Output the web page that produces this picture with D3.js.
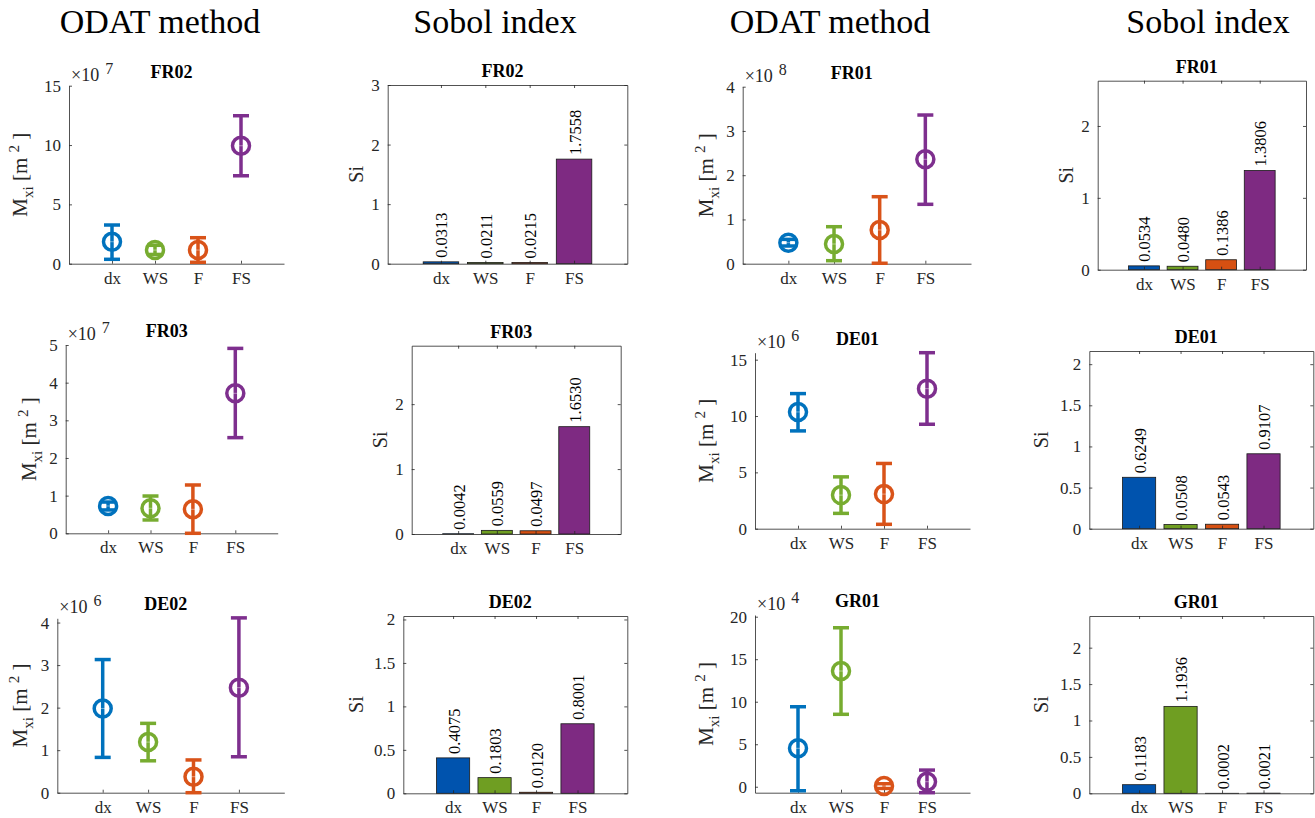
<!DOCTYPE html>
<html>
<head>
<meta charset="utf-8">
<script src="https://cdn.jsdelivr.net/npm/d3@7"></script>
<style>
  body { margin: 0; background: #fff; }
  svg, text { font-family: "Liberation Serif", "Times New Roman", Times, serif; }
</style>
</head>
<body>
<svg id="fig" width="1315" height="818"></svg>
<script>
// ---- data ----
const categories = ["dx", "WS", "F", "FS"];
const columnHeaders = ["ODAT method", "Sobol index", "ODAT method", "Sobol index"];

// ODAT sensitivity measure M_xi (mean with lower/upper error limits), in units of 10^exponent m^2
const odatSites = ["FR02", "FR03", "DE02", "FR01", "DE01", "GR01"];
const odatExponent = [7, 7, 6, 8, 6, 4];
const odatMean = [
  [1.85, 1.15, 1.15, 9.94],
  [0.725, 0.664, 0.637, 3.717],
  [1.98, 1.19, 0.376, 2.47],
  [0.475, 0.445, 0.762, 2.36],
  [10.36, 2.98, 3.07, 12.43],
  [4.52, 13.61, 0.08, 0.59]
];
const odatLow = [
  [0.37, 0.78, 0.12, 7.41],
  [0.62, 0.354, 0.0, 2.54],
  [0.83, 0.75, 0.0, 0.845],
  [0.40, 0.068, 0.01, 1.342],
  [8.68, 1.36, 0.39, 9.27],
  [-0.47, 8.52, -0.2, -0.7]
];
const odatHigh = [
  [3.26, 1.55, 2.19, 12.47],
  [0.83, 0.99, 1.283, 4.91],
  [3.13, 1.63, 0.77, 4.11],
  [0.55, 0.836, 1.514, 3.36],
  [11.99, 4.6, 5.79, 15.62],
  [9.41, 18.7, 0.35, 1.96]
];
const odatYMin = [0, 0, 0, 0, 0, -0.7];
const odatYMax = [15, 5, 4.1, 4, 15.62, 20.2];
const odatTicks = [[0, 5, 10, 15], [0, 1, 2, 3, 4, 5], [0, 1, 2, 3, 4], [0, 1, 2, 3, 4], [0, 5, 10, 15], [0, 5, 10, 15, 20]];

// first-order Sobol indices
const sobolSites = ["FR02", "FR03", "DE02", "FR01", "DE01", "GR01"];
const sobolIndex = [
  [0.0313, 0.0211, 0.0215, 1.7558],
  [0.0042, 0.0559, 0.0497, 1.6530],
  [0.4075, 0.1803, 0.0120, 0.8001],
  [0.0534, 0.0480, 0.1386, 1.3806],
  [0.6249, 0.0508, 0.0543, 0.9107],
  [0.1183, 1.1936, 0.0002, 0.0021]
];
const sobolYMax = [3, 2.9, 2.04, 2.63, 2.16, 2.435];
const sobolTicks = [[0, 1, 2, 3], [0, 1, 2], [0, 0.5, 1, 1.5, 2], [0, 1, 2], [0, 0.5, 1, 1.5, 2], [0, 0.5, 1, 1.5, 2]];

// ---- layout ----
const headerX = [160, 495, 830, 1208];
const odatFrames = [
  { x0: 69, x1: 284, y0: 85.7, y1: 263.7, lab: 42 },
  { x0: 65.7, x1: 277.7, y0: 345, y1: 533.3, lab: 30 },
  { x0: 57.3, x1: 284.3, y0: 618.3, y1: 792.7, lab: 30 },
  { x0: 742.7, x1: 971, y0: 86.7, y1: 263.7, lab: 30 },
  { x0: 755, x1: 970, y0: 352.7, y1: 528.7, lab: 42 },
  { x0: 755, x1: 970, y0: 615, y1: 792.7, lab: 42 }
];
const sobolFrames = [
  { x0: 387.7, x1: 627.3, y0: 85, y1: 263.7, lab: 25 },
  { x0: 411.7, x1: 620.7, y0: 345.7, y1: 534, lab: 25 },
  { x0: 403.3, x1: 627.3, y0: 616, y1: 793.3, lab: 40 },
  { x0: 1097.7, x1: 1306, y0: 80.7, y1: 269.7, lab: 25 },
  { x0: 1089.3, x1: 1313.3, y0: 351, y1: 528.7, lab: 41 },
  { x0: 1089.3, x1: 1313.3, y0: 616, y1: 793.3, lab: 41 }
];
const markerColors = ["#0072BD", "#77AC30", "#D95319", "#7E2F8E"];
const barColors = ["#0053AE", "#6F9E22", "#D65012", "#7E2A82"];
const axisColor = "#262626";
const tickFont = 17;

const svg = d3.select("#fig");

// column headers
svg.selectAll("text.header").data(columnHeaders).join("text")
  .attr("class", "header")
  .attr("x", (d, i) => headerX[i]).attr("y", 33)
  .attr("text-anchor", "middle")
  .attr("font-size", 34).attr("fill", "#000")
  .text(d => d);

function styleAxis(g, showLabels) {
  g.attr("font-family", null).attr("font-size", null);
  g.select(".domain").attr("stroke", axisColor).attr("stroke-width", 0.8);
  g.selectAll(".tick line").attr("stroke", axisColor).attr("stroke-width", 0.8);
  g.selectAll(".tick text")
    .attr("fill", axisColor)
    .attr("font-size", tickFont);
  if (!showLabels) g.selectAll(".tick text").remove();
}

function panelTitle(f, name) {
  svg.append("text")
    .attr("x", (f.x0 + f.x1) / 2 - 5).attr("y", f.y0 - 8)
    .attr("text-anchor", "middle")
    .attr("font-size", 18).attr("font-weight", "bold").attr("fill", "#000")
    .text(name);
}

// ---- ODAT panels: circle markers with error bars ----
odatSites.forEach((site, p) => {
  const f = odatFrames[p];
  const x = d3.scaleLinear().domain([0, 5]).range([f.x0, f.x1]);
  const y = d3.scaleLinear().domain([odatYMin[p], odatYMax[p]]).range([f.y1, f.y0]);
  const g = svg.append("g");

  g.append("g").attr("transform", `translate(0,${f.y1})`)
    .call(d3.axisBottom(x).tickValues([1, 2, 3, 4]).tickFormat(v => categories[v - 1])
      .tickSizeInner(-3).tickSizeOuter(0).tickPadding(8))
    .call(a => styleAxis(a, true));
  g.append("g").attr("transform", `translate(${f.x0},0)`)
    .call(d3.axisLeft(y).tickValues(odatTicks[p]).tickFormat(d3.format("d"))
      .tickSizeInner(-3).tickSizeOuter(0).tickPadding(8))
    .call(a => styleAxis(a, true));

  const pts = categories.map((c, i) => ({
    i, mean: odatMean[p][i], lo: odatLow[p][i], hi: odatHigh[p][i]
  }));
  const capW = 8, r = 8.5;
  const e = g.selectAll("g.pt").data(pts).join("g").attr("class", "pt")
    .attr("stroke", d => markerColors[d.i]).attr("stroke-width", 3.5).attr("fill", "none");
  e.append("line")
    .attr("x1", d => x(d.i + 1)).attr("x2", d => x(d.i + 1))
    .attr("y1", d => y(d.lo)).attr("y2", d => y(d.hi));
  e.append("line")
    .attr("x1", d => x(d.i + 1) - capW).attr("x2", d => x(d.i + 1) + capW)
    .attr("y1", d => y(d.lo)).attr("y2", d => y(d.lo));
  e.append("line")
    .attr("x1", d => x(d.i + 1) - capW).attr("x2", d => x(d.i + 1) + capW)
    .attr("y1", d => y(d.hi)).attr("y2", d => y(d.hi));
  e.append("circle")
    .attr("cx", d => x(d.i + 1)).attr("cy", d => y(d.mean)).attr("r", r);
  e.append("line")
    .attr("x1", d => x(d.i + 1) - r + 2).attr("x2", d => x(d.i + 1) + r - 2)
    .attr("y1", d => y(d.mean)).attr("y2", d => y(d.mean))
    .attr("stroke", "#ffffff").attr("stroke-opacity", 0.55).attr("stroke-width", 0.8);

  // y label  M_xi [m^2]
  const cy = (f.y0 + f.y1) / 2;
  const lab = g.append("text")
    .attr("transform", `translate(${f.x0 - f.lab},${cy}) rotate(-90)`)
    .attr("text-anchor", "middle").attr("font-size", 21).attr("fill", axisColor);
  lab.append("tspan").text("M");
  lab.append("tspan").attr("dy", 6).attr("font-size", 15).text("xi");
  lab.append("tspan").attr("dy", -6).text(" [m ");
  lab.append("tspan").attr("dy", -8).attr("font-size", 15).text("2");
  lab.append("tspan").attr("dy", 8).text(" ]");

  // exponent multiplier
  const ex = g.append("text")
    .attr("x", f.x0 + 2).attr("y", f.y0 - 5)
    .attr("font-size", 18).attr("fill", axisColor);
  ex.append("tspan").text("\u00d710");
  ex.append("tspan").attr("dx", 6).attr("dy", -7).attr("font-size", 16).text(odatExponent[p]);

  panelTitle(f, site);
});

// ---- Sobol panels: bar charts ----
sobolSites.forEach((site, p) => {
  const f = sobolFrames[p];
  const x = d3.scaleLinear().domain([-0.2, 5.2]).range([f.x0, f.x1]);
  const y = d3.scaleLinear().domain([0, sobolYMax[p]]).range([f.y1, f.y0]);
  const g = svg.append("g");
  const vals = sobolIndex[p].map((v, i) => ({ i, v }));

  g.selectAll("rect.bar").data(vals).join("rect").attr("class", "bar")
    .attr("x", d => x(d.i + 1 - 0.4)).attr("width", d => x(d.i + 1 + 0.4) - x(d.i + 1 - 0.4))
    .attr("y", d => y(d.v)).attr("height", d => y(0) - y(d.v))
    .attr("fill", d => barColors[d.i])
    .attr("stroke", "#1a1a1a").attr("stroke-width", 0.8);

  g.selectAll("text.val").data(vals).join("text").attr("class", "val")
    .attr("transform", d => `translate(${x(d.i + 1) + 1},${y(d.v) - 4}) rotate(-90)`)
    .attr("text-anchor", "start").attr("dominant-baseline", "central")
    .attr("font-size", 16.5).attr("fill", "#000")
    .text(d => d.v.toFixed(4));

  const fmt = v => String(v);
  g.append("g").attr("transform", `translate(0,${f.y1})`)
    .call(d3.axisBottom(x).tickValues([1, 2, 3, 4]).tickFormat(v => categories[v - 1])
      .tickSizeInner(-3).tickSizeOuter(0).tickPadding(8))
    .call(a => styleAxis(a, true));
  g.append("g").attr("transform", `translate(0,${f.y0})`)
    .call(d3.axisTop(x).tickValues([1, 2, 3, 4]).tickSizeInner(-3).tickSizeOuter(0))
    .call(a => styleAxis(a, false));
  g.append("g").attr("transform", `translate(${f.x0},0)`)
    .call(d3.axisLeft(y).tickValues(sobolTicks[p]).tickFormat(fmt)
      .tickSizeInner(-3).tickSizeOuter(0).tickPadding(8))
    .call(a => styleAxis(a, true));
  g.append("g").attr("transform", `translate(${f.x1},0)`)
    .call(d3.axisRight(y).tickValues(sobolTicks[p]).tickSizeInner(-3).tickSizeOuter(0))
    .call(a => styleAxis(a, false));

  g.append("text")
    .attr("transform", `translate(${f.x0 - f.lab},${(f.y0 + f.y1) / 2}) rotate(-90)`)
    .attr("text-anchor", "middle").attr("font-size", 20).attr("fill", axisColor)
    .text("Si");

  panelTitle(f, site);
});
</script>
</body>
</html>
